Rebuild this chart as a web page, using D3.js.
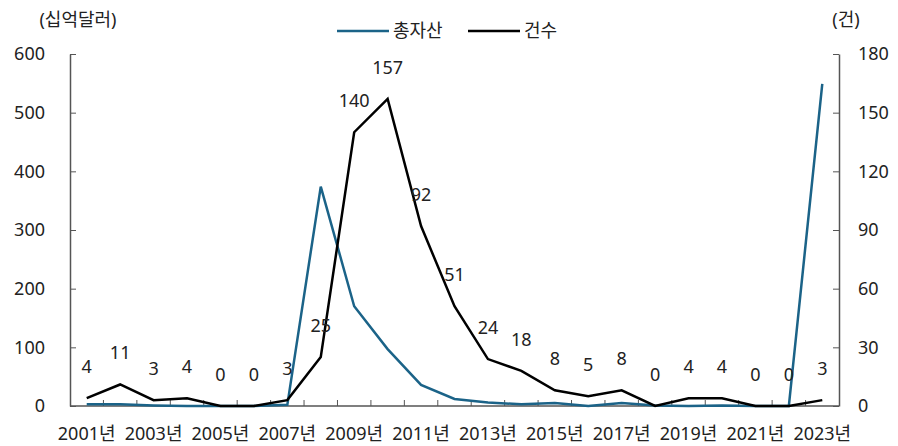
<!DOCTYPE html>
<html>
<head>
<meta charset="utf-8">
<script src="https://cdn.jsdelivr.net/npm/d3@7"></script>
<style>
  html, body { margin: 0; padding: 0; background: #fff; }
  svg { display: block; font-family: "Noto Sans", "Noto Sans CJK KR", sans-serif; }
</style>
</head>
<body>
<svg id="chart" width="898" height="446"></svg>
<script>
// 연도별 총자산(십억달러)과 건수
const years = ["2001","2002","2003","2004","2005","2006","2007","2008","2009","2010","2011","2012",
               "2013","2014","2015","2016","2017","2018","2019","2020","2021","2022","2023"];
const assets = [3, 3, 1, 0, 0, 0, 2, 374, 170, 97, 36, 12, 6, 3, 5, 0, 5, 1, 0, 1, 0, 0, 549];
const counts = [4, 11, 3, 4, 0, 0, 3, 25, 140, 157, 92, 51, 24, 18, 8, 5, 8, 0, 4, 4, 0, 0, 3];
const leftTicks = [0, 100, 200, 300, 400, 500, 600];
const rightTicks = [0, 30, 60, 90, 120, 150, 180];
const seriesNames = ["총자산", "건수"];
const seriesColors = ["#1b6388", "#000000"];

const FONT = "'Noto Sans', 'Noto Sans CJK KR', sans-serif";
const FS = 18;
const svg = d3.select("#chart");
const margin = { left: 70, right: 59, top: 54, bottom: 40 };
const W = 898, H = 446;
const x = d3.scaleBand().domain(years).range([margin.left, W - margin.right]);
const yL = d3.scaleLinear().domain([0, 600]).range([H - margin.bottom, margin.top]);
const yR = d3.scaleLinear().domain([0, 180]).range([H - margin.bottom, margin.top]);
const cx = d => x(d) + x.bandwidth() / 2;
const axisColor = "#555";
const textColor = "#222";

// x축: 구간 경계에 안쪽 눈금
const xAxis = svg.append("g").attr("transform", `translate(0,${H - margin.bottom})`);
xAxis.append("line").attr("x1", margin.left).attr("x2", W - margin.right)
  .attr("stroke", axisColor).attr("stroke-width", 1.5);
years.forEach((yr, i) => {
  if (i > 0) {
    xAxis.append("line").attr("x1", x(yr)).attr("x2", x(yr)).attr("y1", 0).attr("y2", -6)
      .attr("stroke", axisColor).attr("stroke-width", 1);
  }
  if (i % 2 === 0) {
    xAxis.append("text").attr("x", cx(yr)).attr("y", 34).attr("text-anchor", "middle")
      .attr("font-size", FS).attr("fill", textColor).text(yr + "년");
  }
});

// 왼쪽 축
const gL = svg.append("g").attr("transform", `translate(${margin.left},0)`)
  .call(d3.axisLeft(yL).tickValues(leftTicks).tickSizeInner(-6).tickSizeOuter(0).tickPadding(25));
gL.select(".domain").attr("stroke", axisColor).attr("stroke-width", 1.5);
gL.selectAll(".tick line").attr("stroke", axisColor);
gL.selectAll(".tick text").attr("font-size", FS).attr("fill", textColor).attr("font-family", FONT);

// 오른쪽 축
const gR = svg.append("g").attr("transform", `translate(${W - margin.right},0)`)
  .call(d3.axisRight(yR).tickValues(rightTicks).tickSizeInner(-6).tickSizeOuter(0).tickPadding(19));
gR.select(".domain").attr("stroke", axisColor).attr("stroke-width", 1.5);
gR.selectAll(".tick line").attr("stroke", axisColor);
gR.selectAll(".tick text").attr("font-size", FS).attr("fill", textColor).attr("font-family", FONT);

// 단위 표시
svg.append("text").attr("x", 78).attr("y", 26).attr("text-anchor", "middle")
  .attr("font-size", FS).attr("fill", textColor).text("(십억달러)");
svg.append("text").attr("x", 846).attr("y", 26).attr("text-anchor", "middle")
  .attr("font-size", FS).attr("fill", textColor).text("(건)");

// 선
const lineL = d3.line().x((d, i) => cx(years[i])).y(d => yL(d));
const lineR = d3.line().x((d, i) => cx(years[i])).y(d => yR(d));
svg.append("path").datum(assets).attr("d", lineL).attr("fill", "none")
  .attr("stroke", seriesColors[0]).attr("stroke-width", 2.5).attr("stroke-linejoin", "miter");
svg.append("path").datum(counts).attr("d", lineR).attr("fill", "none")
  .attr("stroke", seriesColors[1]).attr("stroke-width", 2.5).attr("stroke-linejoin", "miter");

// 건수 라벨
svg.append("g").selectAll("text").data(counts).join("text")
  .attr("x", (d, i) => cx(years[i]))
  .attr("y", d => yR(d) - 25)
  .attr("text-anchor", "middle").attr("font-size", FS).attr("fill", textColor)
  .text(d => d);

// 범례
const legend = svg.append("g");
const legendItems = [{ x0: 337, name: seriesNames[0], c: seriesColors[0] },
                     { x0: 468, name: seriesNames[1], c: seriesColors[1] }];
legendItems.forEach(it => {
  legend.append("line").attr("x1", it.x0).attr("x2", it.x0 + 52).attr("y1", 31).attr("y2", 31)
    .attr("stroke", it.c).attr("stroke-width", 2.5);
  legend.append("text").attr("x", it.x0 + 56).attr("y", 37).attr("font-size", FS)
    .attr("fill", textColor).text(it.name);
});
</script>
</body>
</html>
